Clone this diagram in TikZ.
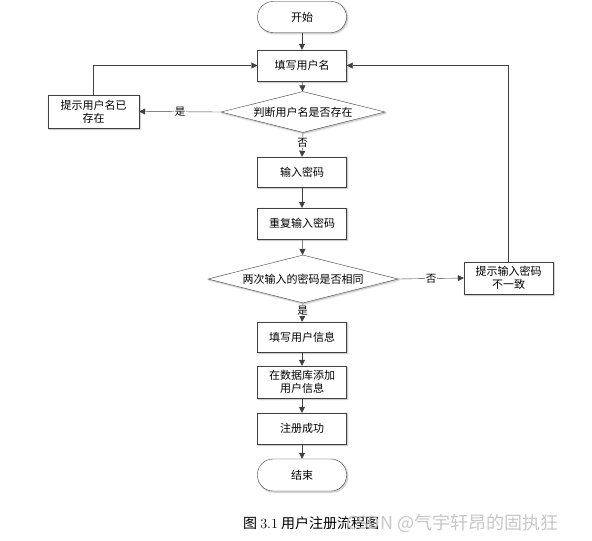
\documentclass[tikz,border=0pt]{standalone}
\usepackage{fontspec}
\newfontfamily\cjk{Noto Sans CJK SC}
\usetikzlibrary{shadows.blur,shapes,arrows.meta}

\begin{document}
\begin{tikzpicture}[x=1pt, y=-1pt]
\tikzstyle{basicshadow}=[blur shadow={shadow blur steps=6, shadow xshift=1pt, shadow yshift=-1pt, shadow opacity=30}]
\tikzstyle{basic}=[draw=black!75, fill=white, basicshadow, font=\cjk\fontsize{11}{13}\selectfont, align=center, inner sep=0pt]
\tikzstyle{process}=[basic, minimum width=89pt, minimum height=31pt]
\tikzstyle{terminal}=[process, rounded corners=15.5pt]
\tikzstyle{decision}=[basic, diamond, aspect=4]
\tikzstyle{edgestyle}=[draw=black!75, thin, -{Triangle[length=6pt,width=6pt]}]
\tikzstyle{answer}=[fill=white, inner sep=1pt, font=\cjk\fontsize{10.5}{12}\selectfont]
\useasboundingbox (0,0) rectangle (592,541);

\node[terminal] (start) at (302,17) {开始};
\node[process] (name) at (302,65.5) {填写用户名};
\node[decision, minimum width=164pt, minimum height=41pt] (chkname) at (303,112) {判断用户名是否存在};
\node[process, minimum width=91pt, minimum height=33pt] (tipname) at (93.5,111.5) {提示用户名已\\存在};
\node[process, minimum height=30pt] (pwd) at (302,172) {输入密码};
\node[process] (pwd2) at (302,223.5) {重复输入密码};
\node[decision, minimum width=190pt, minimum height=48pt] (chkpwd) at (303,279) {两次输入的密码是否相同};
\node[process, minimum height=32pt] (tippwd) at (508.5,278) {提示输入密码\\不一致};
\node[process, minimum height=30pt] (info) at (302,337) {填写用户信息};
\node[process, minimum height=32pt] (db) at (302,382) {在数据库添加\\用户信息};
\node[process] (ok) at (302,428.5) {注册成功};
\node[terminal, minimum height=32pt] (end) at (302,475) {结束};

\draw[edgestyle] (start) -- (name);
\draw[edgestyle] (name) -- (chkname);
\draw[edgestyle] (chkname.west) -- node[answer] {是} (tipname.east);
\draw[edgestyle] (tipname.north) |- (name.west);
\draw[edgestyle] (chkname.south) -- node[answer, pos=0.4] {否} (pwd.north);
\draw[edgestyle] (pwd) -- (pwd2);
\draw[edgestyle] (pwd2) -- (chkpwd);
\draw[edgestyle] (chkpwd.east) -- node[answer] {否} (tippwd.west);
\draw[edgestyle] (tippwd.north) |- (name.east);
\draw[edgestyle] (chkpwd.south) -- node[answer, pos=0.4] {是} (info.north);
\draw[edgestyle] (info) -- (db);
\draw[edgestyle] (db) -- (ok);
\draw[edgestyle] (ok) -- (end);

% caption and watermark
\node[font=\cjk\fontsize{14}{16}\selectfont, anchor=west, inner sep=0pt] (caption) at (243,523) {图 {\rmfamily 3.1} 用户注册流程图};
\node[font=\cjk\fontsize{18}{20}\selectfont, text=black!22, anchor=west, inner sep=0pt] (mark) at (346,523) {CSDN @气宇轩昂的固执狂};
\end{tikzpicture}
\end{document}
